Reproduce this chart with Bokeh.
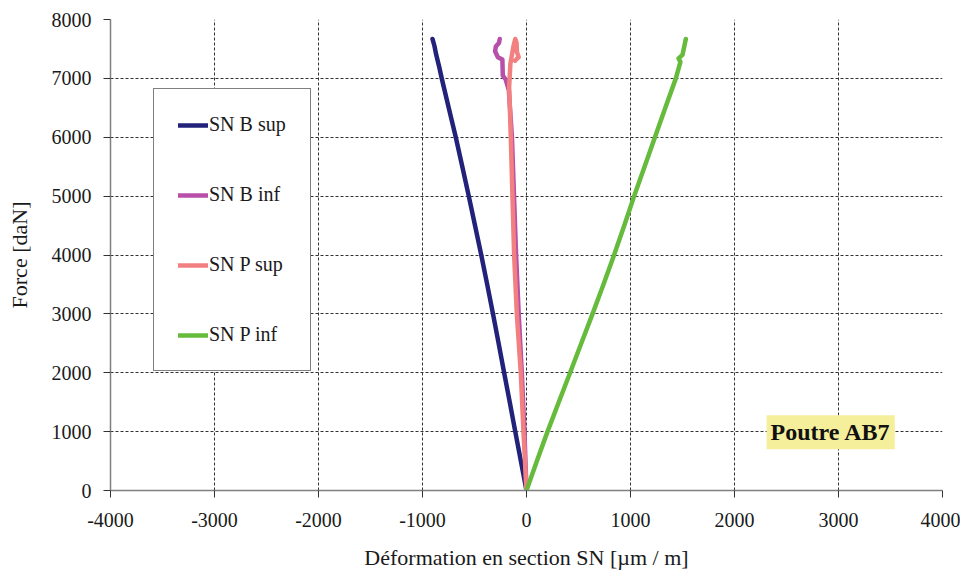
from bokeh.plotting import figure
from bokeh.models import Range1d, FixedTicker, Legend, LegendItem, Label
from bokeh.embed import file_html
from bokeh.resources import INLINE

# ---- data ----
x_ticks = [-4000, -3000, -2000, -1000, 0, 1000, 2000, 3000, 4000]
x_tick_labels = ["-4000", "-3000", "-2000", "-1000", "0", "1000", "2000", "3000", "4000"]
y_ticks = [0, 1000, 2000, 3000, 4000, 5000, 6000, 7000, 8000]
y_tick_labels = ["0", "1000", "2000", "3000", "4000", "5000", "6000", "7000", "8000"]

sn_b_sup_x = [0, -54, -108, -161, -215, -268, -322, -378, -435, -495, -555, -617, -680, -748, -815, -840, -868, -885, -904]
sn_b_sup_y = [0, 500, 1000, 1500, 2000, 2500, 3000, 3500, 4000, 4500, 5000, 5500, 6000, 6500, 7000, 7200, 7400, 7550, 7670]

sn_b_inf_x = [0, -20, -45, -75, -100, -120, -140, -170, -200, -228, -232, -275, -302, -295, -265, -257]
sn_b_inf_y = [0, 1000, 2000, 3000, 4000, 5000, 6000, 6800, 6980, 7050, 7320, 7360, 7460, 7540, 7600, 7670]

sn_p_sup_x = [0, -29, -55, -93, -119, -135, -151, -160, -167, -155, -140, -125, -108, -95, -92, -75, -95, -110]
sn_p_sup_y = [0, 1000, 2000, 3000, 4000, 5000, 6000, 6500, 6850, 7250, 7400, 7550, 7670, 7600, 7450, 7360, 7330, 7300]

sn_p_inf_x = [0, 100, 202, 310, 419, 527, 635, 740, 842, 940, 1035, 1135, 1235, 1335, 1436, 1480, 1462, 1500, 1532]
sn_p_inf_y = [0, 500, 1000, 1500, 2000, 2500, 3000, 3500, 4000, 4500, 5000, 5500, 6000, 6500, 7000, 7280, 7340, 7400, 7670]

series_names = ["SN B sup", "SN B inf", "SN P sup", "SN P inf"]
series_colors = ["#22227a", "#b84fa8", "#f28080", "#66bb3c"]

FONT = "Liberation Serif"

p = figure(width=960, height=572, output_backend="svg", toolbar_location=None,
           x_range=Range1d(-4000, 4000), y_range=Range1d(0, 8000),
           min_border_left=110, min_border_top=19, min_border_right=18, min_border_bottom=75)
p.outline_line_color = None
p.background_fill_color = "white"
p.border_fill_color = "white"

for ax, ticks, labels in ((p.xaxis, x_ticks, x_tick_labels), (p.yaxis, y_ticks, y_tick_labels)):
    ax.ticker = FixedTicker(ticks=ticks)
    ax.major_label_overrides = {t: l for t, l in zip(ticks, labels)}
    ax.axis_line_color = "#808080"
    ax.axis_line_width = 1.5
    ax.major_tick_line_color = "#333333"
    ax.major_tick_out = 7
    ax.major_tick_in = 0
    ax.minor_tick_out = 0
    ax.minor_tick_in = 0
    ax.major_label_text_font = FONT
    ax.major_label_text_font_size = "20px"
    ax.major_label_text_color = "#1a1a1a"
    ax.axis_label_text_font = FONT
    ax.axis_label_text_font_size = "22px"
    ax.axis_label_text_font_style = "normal"
    ax.axis_label_text_color = "#1a1a1a"

p.xaxis.axis_label = "Déformation en section SN [µm / m]"
p.yaxis.axis_label = "Force [daN]"
p.yaxis.major_label_standoff = 12
p.xaxis.major_label_standoff = 15
p.yaxis.axis_label_standoff = 17
p.xaxis.axis_label_standoff = 15

for g in (p.xgrid, p.ygrid):
    g.grid_line_color = "#333333"
    g.grid_line_dash = "3 2"
    g.grid_line_width = 1

renderers = []
for xs, ys, c in ((sn_b_sup_x, sn_b_sup_y, series_colors[0]),
                  (sn_b_inf_x, sn_b_inf_y, series_colors[1]),
                  (sn_p_sup_x, sn_p_sup_y, series_colors[2]),
                  (sn_p_inf_x, sn_p_inf_y, series_colors[3])):
    r = p.line(xs, ys, line_color=c, line_width=4.5, line_join="round", line_cap="round")
    renderers.append(r)

legend = Legend(items=[LegendItem(label=n, renderers=[r]) for n, r in zip(series_names, renderers)],
                location=(43, 119), orientation="vertical",
                glyph_width=30, glyph_height=20, label_height=20, spacing=47,
                padding=24, margin=0, label_standoff=1,
                label_text_font=FONT, label_text_font_size="20px", label_text_color="#1a1a1a",
                border_line_color="black", border_line_width=1,
                background_fill_color="white", background_fill_alpha=1)
p.add_layout(legend)

label = Label(x=2925, y=990, text="Poutre AB7", text_font=FONT, text_font_style="bold",
              text_font_size="24px", text_align="center", text_baseline="middle",
              text_color="#111111", background_fill_color="#f5ef9c", padding=4)
p.add_layout(label)

open("out.html", "w").write(file_html(p, INLINE))
